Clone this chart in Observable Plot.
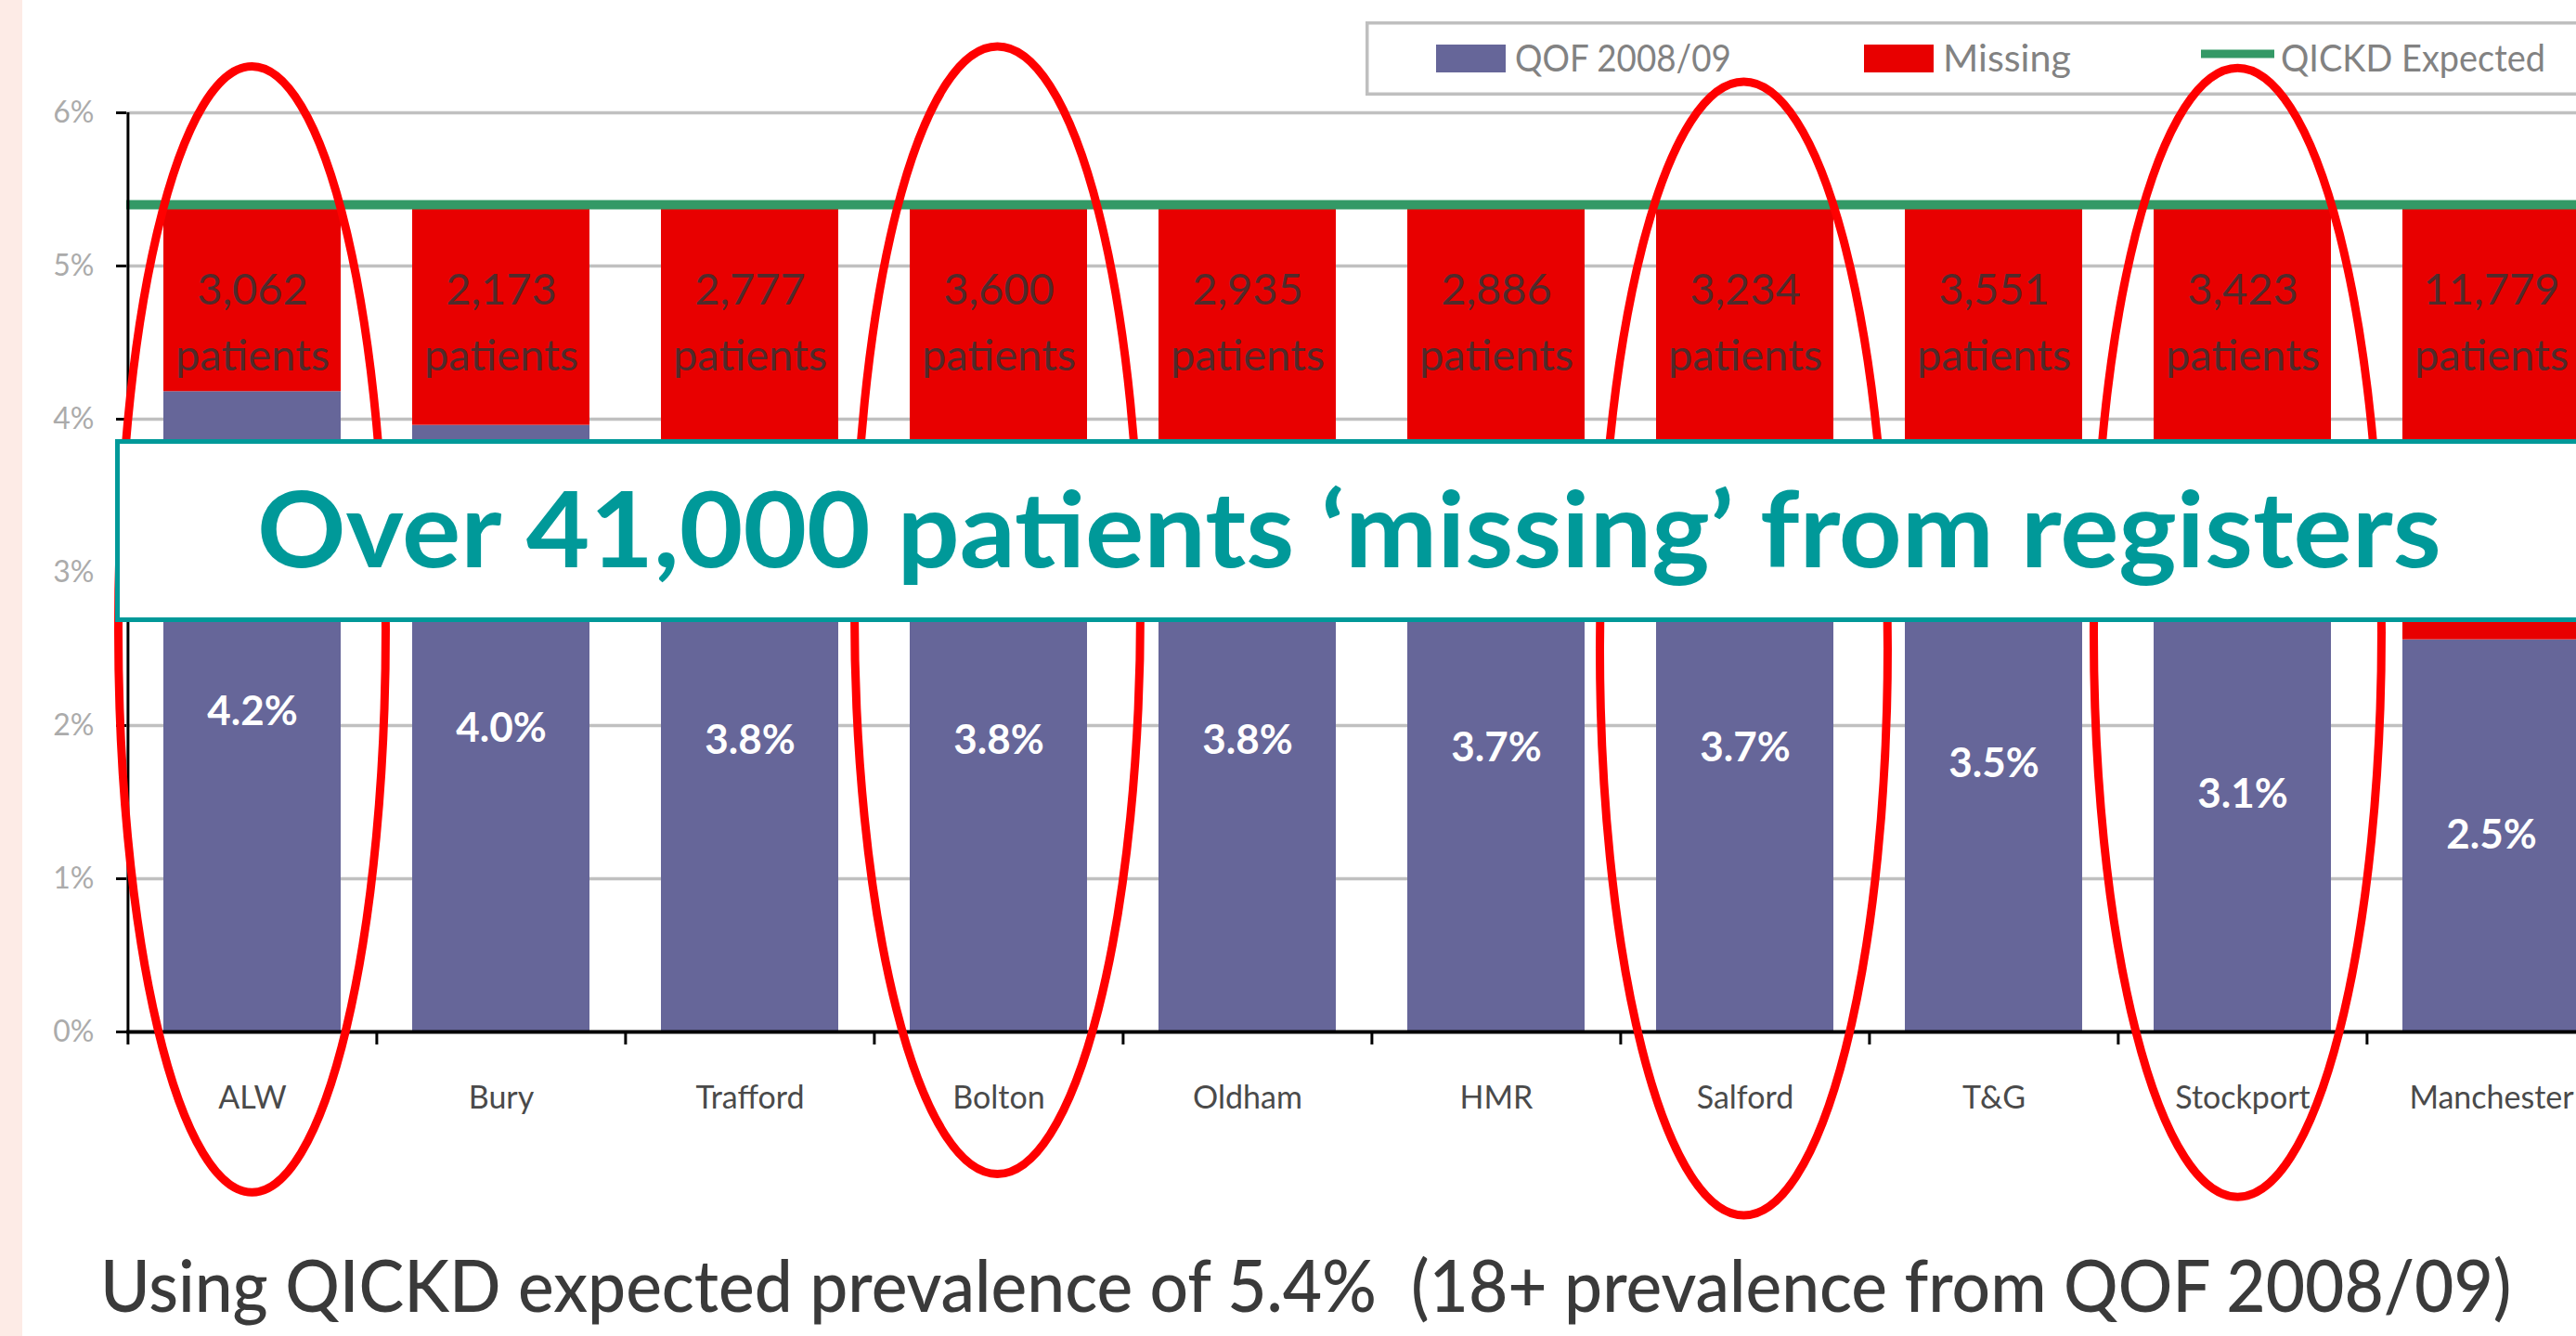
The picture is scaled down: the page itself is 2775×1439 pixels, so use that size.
<!DOCTYPE html>
<html>
<head>
<meta charset="utf-8">
<script src="https://cdn.jsdelivr.net/npm/d3@7"></script>
<script src="https://cdn.jsdelivr.net/npm/@observablehq/plot@0.6"></script>
<style>
  html, body { margin: 0; padding: 0; background: #fff; }
  body { width: 2775px; height: 1439px; overflow: hidden; position: relative; font-family: Lato, "Open Sans", sans-serif; }
  #strip { position: absolute; left: 0; top: 0; width: 24px; height: 1439px; background: #fdebe6; z-index: 0; }
  #legend { position: absolute; left: 0; top: 0; z-index: 1; }
  #chart { position: absolute; left: 0; top: 0; z-index: 2; }
  #chart svg { max-width: none !important; background: transparent !important; overflow: visible; }
  #overlay { position: absolute; left: 0; top: 0; z-index: 3; pointer-events: none; }
  text { white-space: pre; }
</style>
</head>
<body>
<div id="strip"></div>
<svg id="legend" width="2775" height="110"></svg>
<div id="chart"></div>
<svg id="overlay" width="2775" height="1439"></svg>
<script>
// ---------------- data ----------------
const areas = ["ALW", "Bury", "Trafford", "Bolton", "Oldham", "HMR", "Salford", "T&G", "Stockport", "Manchester"];
const qofPrevalence = [4.18, 3.96, 3.8, 3.8, 3.8, 3.7, 3.7, 3.5, 3.1, 2.56];
const qofLabels = ["4.2%", "4.0%", "3.8%", "3.8%", "3.8%", "3.7%", "3.7%", "3.5%", "3.1%", "2.5%"];
const missingPatients = ["3,062", "2,173", "2,777", "3,600", "2,935", "2,886", "3,234", "3,551", "3,423", "11,779"];
const expectedPrevalence = 5.4;
const yTicks = [0, 1, 2, 3, 4, 5, 6];
const circledAreas = ["ALW", "Bolton", "Salford", "Stockport"];
const seriesNames = ["QOF 2008/09", "Missing", "QICKD Expected"];
const bannerText = "Over 41,000 patients \u2018missing\u2019 from registers";
const captionText = "Using QICKD expected prevalence of 5.4%  (18+ prevalence from QOF 2008/09)";

const colors = {qof: "#666699", missing: "#e80000", expected: "#339966"};

const rows = areas.map((area, i) => ({
  area, qof: qofPrevalence[i], label: qofLabels[i], missing: missingPatients[i]
}));

// ---------------- layout ----------------
const W = 2830, H = 1439;
const frameLeft = 136, frameRight = 2818, frameTop = 121, frameBottom = 1111;
const pad = 0.288;
const step = (frameRight - frameLeft) / areas.length;
const pxPerUnit = (frameBottom - frameTop) / 6;

// annotation ellipses (extent in y units, half-width in px)
const ellipseSpec = {
  ALW:       {top: 6.30, bottom: -1.05, rx: 144, dx: 0},
  Bolton:    {top: 6.43, bottom: -0.93, rx: 154, dx: -1},
  Salford:   {top: 6.20, bottom: -1.20, rx: 155, dx: -1},
  Stockport: {top: 6.29, bottom: -1.08, rx: 155, dx: -5}
};

function ellipses(index, scales) {
  const g = d3.create("svg:g")
    .attr("fill", "none").attr("stroke", "#ff0000").attr("stroke-width", 9);
  const bw = step * (1 - pad);
  for (const a of circledAreas) {
    const s = ellipseSpec[a];
    const cx = scales.x(a) + bw / 2 + s.dx;
    const yt = scales.y(s.top), yb = scales.y(s.bottom);
    g.append("ellipse")
      .attr("cx", cx).attr("cy", (yt + yb) / 2)
      .attr("rx", s.rx).attr("ry", (yb - yt) / 2);
  }
  return g.node();
}

const chart = Plot.plot({
  width: W, height: H,
  marginLeft: frameLeft, marginRight: W - frameRight,
  marginTop: frameTop, marginBottom: H - frameBottom,
  style: {fontFamily: "Lato, sans-serif", background: "transparent", maxWidth: "none", overflow: "visible"},
  x: {type: "band", domain: areas, paddingInner: pad, paddingOuter: pad / 2, align: 0.5, axis: null, label: null},
  y: {domain: [0, 6], label: null, axis: null},
  marks: [
    Plot.ruleY(yTicks.slice(1), {y: d => d, stroke: "#c0c0c0", strokeWidth: 3.5}),
    Plot.barY(rows, {x: "area", y1: () => 0, y2: "qof", fill: colors.qof}),
    Plot.barY(rows, {x: "area", y1: "qof", y2: () => expectedPrevalence, fill: colors.missing}),
    Plot.ruleY([expectedPrevalence], {y: d => d, stroke: colors.expected, strokeWidth: 10}),
    // y axis
    Plot.axisY({ticks: yTicks, tickSize: 11, tickFormat: () => "", stroke: "black", strokeWidth: 3, label: null}),
    Plot.axisY({ticks: yTicks, tickSize: 0, tickPadding: 35, tickFormat: d => d + "%", fontSize: 32, color: "#ababab", label: null}),
    Plot.ruleX([areas[0]], {x: d => d, dx: -step / 2, stroke: "black", strokeWidth: 3}),
    // x axis
    Plot.ruleY([0], {y: d => d, stroke: "black", strokeWidth: 4}),
    Plot.ruleX(areas, {x: d => d, dx: -step / 2, y1: () => 0, y2: () => -14 / pxPerUnit, stroke: "black", strokeWidth: 3}),
    Plot.text(areas, {x: d => d, y: () => 0, dy: 72, text: d => d, fill: "#4a4a4a", fontSize: 34}),
    // labels
    Plot.text(rows, {x: "area", y: d => d.qof / 2, text: "label", fill: "white", fontWeight: "bold", fontSize: 44}),
    Plot.text(rows, {x: "area", y: () => 4.84, text: "missing", fill: "#333", fillOpacity: 0.85, fontSize: 47}),
    Plot.text(rows, {x: "area", y: () => 4.41, text: () => "patients", fill: "#333", fillOpacity: 0.85, fontSize: 47}),
    ellipses
  ]
});
document.getElementById("chart").appendChild(chart);

// fit a text horizontally to a target width with a scale transform
function placeText(sel, x, y, targetWidth) {
  const natural = sel.node().getComputedTextLength();
  const k = natural > 0 ? targetWidth / natural : 1;
  sel.attr("x", 0).attr("y", 0).attr("transform", `translate(${x},${y}) scale(${k},1)`);
}

// ---------------- legend ----------------
const lg = d3.select("#legend");
lg.append("rect").attr("x", 1472.75).attr("y", 24.75).attr("width", 1400).attr("height", 76.5)
  .attr("fill", "white").attr("stroke", "#bfbfbf").attr("stroke-width", 3.5);
const legendItems = [
  {name: seriesNames[0], kind: "rect", color: colors.qof, sx: 1547, tx: 1632, tw: 233},
  {name: seriesNames[1], kind: "rect", color: colors.missing, sx: 2008, tx: 2093, tw: 138},
  {name: seriesNames[2], kind: "line", color: colors.expected, sx: 2371, tx: 2457, tw: 285}
];
for (const it of legendItems) {
  if (it.kind === "rect") {
    lg.append("rect").attr("x", it.sx).attr("y", 48).attr("width", 75).attr("height", 30).attr("fill", it.color);
  } else {
    lg.append("line").attr("x1", it.sx).attr("x2", it.sx + 79).attr("y1", 58).attr("y2", 58)
      .attr("stroke", it.color).attr("stroke-width", 9);
  }
  const t = lg.append("text").text(it.name)
    .attr("font-family", "Lato, sans-serif").attr("font-size", 40).attr("fill", "#828282");
  placeText(t, it.tx, 77, it.tw);
}

// ---------------- banner + caption ----------------
const ov = d3.select("#overlay");
ov.append("rect").attr("x", 126.5).attr("y", 475.5).attr("width", 2700).attr("height", 192)
  .attr("fill", "white").attr("stroke", "#009999").attr("stroke-width", 5);
const bt = ov.append("text").text(bannerText)
  .attr("font-family", "Lato, sans-serif").attr("font-weight", "bold").attr("font-size", 113)
  .attr("fill", "#009999");
placeText(bt, 277, 611, 2353);
const ct = ov.append("text").text(captionText)
  .attr("font-family", "Lato, sans-serif").attr("font-weight", 500).attr("font-size", 77)
  .attr("fill", "#3a3a3a");
placeText(ct, 108, 1413, 2598);
</script>
</body>
</html>
